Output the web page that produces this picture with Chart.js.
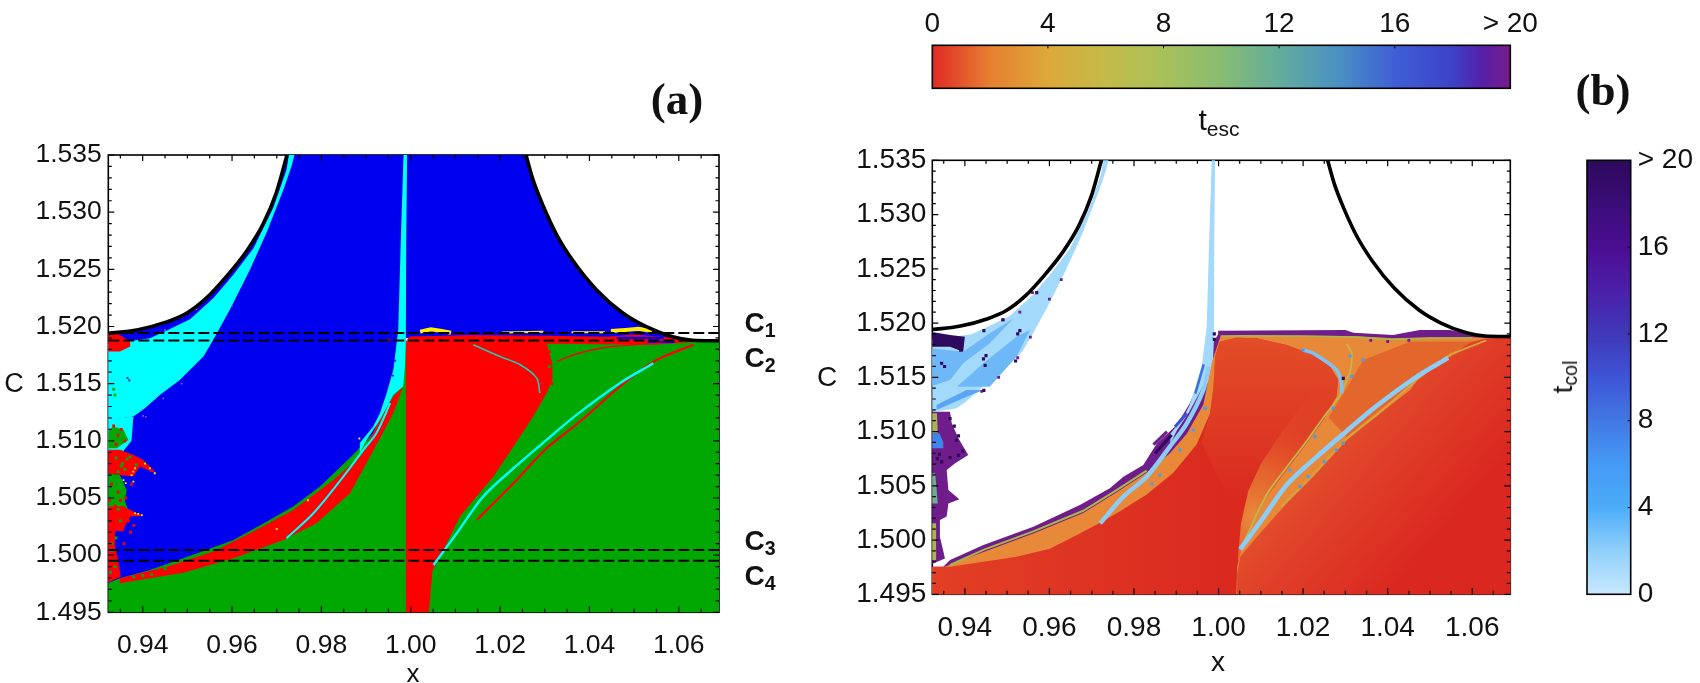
<!DOCTYPE html>
<html>
  <head>
    <title>Escape basins</title>
    <style>
      body { margin: 0; background: #fff; overflow: hidden; width: 1700px; height: 683px; position: relative; font-family: "Liberation Sans", sans-serif; color: #111; }
      canvas { position: absolute; left: 0; top: 0; }
      .lbl { position: absolute; transform: translate(-50%, -50%); line-height: 1; white-space: nowrap; }
      .lbl sub { font-size: 70%; line-height: 0; vertical-align: -0.28em; }
      .big { font-family: "Liberation Serif", serif; font-weight: bold; font-size: 45px; }
      .cc { font-weight: bold; font-size: 28px; }
    </style>
    <script src="https://cdnjs.cloudflare.com/ajax/libs/Chart.js/4.4.1/chart.umd.min.js"></script>
  </head>
  <body>
    <canvas id="panelA" width="1700" height="683"></canvas>
    <canvas id="panelB" width="1700" height="683"></canvas>
    <canvas id="barEsc" width="1700" height="683"></canvas>
    <canvas id="barCol" width="1700" height="683"></canvas>

    <div class="lbl big" style="left:677px;top:99px">(a)</div>
    <div class="lbl big" style="left:1603px;top:90px">(b)</div>
    <div class="lbl cc" style="left:760px;top:323px">C<sub>1</sub></div>
    <div class="lbl cc" style="left:760px;top:358px">C<sub>2</sub></div>
    <div class="lbl cc" style="left:760px;top:541px">C<sub>3</sub></div>
    <div class="lbl cc" style="left:760px;top:576px">C<sub>4</sub></div>
    <div class="lbl" style="left:14px;top:383px;font-size:27px">C</div>
    <div class="lbl" style="left:413px;top:673px;font-size:26px">x</div>
    <div class="lbl" style="left:827px;top:377px;font-size:28px">C</div>
    <div class="lbl" style="left:1218px;top:662px;font-size:28px">x</div>
    <div class="lbl" style="left:1219px;top:120px;font-size:30px">t<sub>esc</sub></div>
    <div class="lbl" style="left:1563px;top:377px;font-size:28px;transform:translate(-50%,-50%) rotate(-90deg)">t<sub>col</sub></div>

    <script>
      // ticks
      const xMajor = [0.94, 0.96, 0.98, 1.00, 1.02, 1.04, 1.06]
      const yMajor = [1.495, 1.500, 1.505, 1.510, 1.515, 1.520, 1.525, 1.530, 1.535]
      const barTicks = [0, 4, 8, 12, 16, 20]
      const dashedLevels = [1.51942, 1.51877, 1.50045, 1.49952]

      // energy boundary
      const energyLeft = [[.9323,1.5194],[.9387,1.5197],[.9454,1.5204],[.9498,1.52115],[.9543,1.5225],[.9588,1.5244],[.9632,1.52656],[.9670,1.5290],[.9699,1.5317],[.9723,1.5350]]
      const energyRight = [[1.0258,1.5350],[1.0274,1.5328],[1.0297,1.5305],[1.0327,1.5280],[1.0364,1.5257],[1.0416,1.5232],[1.0474,1.5212],[1.0526,1.5200],[1.0586,1.5191],[1.0630,1.5188],[1.0695,1.51875]]

      // panel a regions
      const aGreen = [[.9318,1.4948],[1.0695,1.4948],[1.0695,1.51875],[.9318,1.51875]]
      const aBlue = [[.9318,1.4975],[.9349,1.49797],[.9416,1.4987],[.9543,1.50045],[.9603,1.50133],[.9677,1.50293],[.9737,1.50425],[.9797,1.5060],[.9871,1.50877],[.9916,1.51066],[.9954,1.51446],[.9976,1.5162],[.9987,1.51854],[.9990,1.5190],[1.0588,1.5190],[1.0630,1.5188],[1.0586,1.5191],[1.0526,1.5200],[1.0474,1.5212],[1.0416,1.5232],[1.0364,1.5257],[1.0327,1.5280],[1.0297,1.5305],[1.0274,1.5328],[1.0258,1.5352],[.9723,1.5352],[.9699,1.5317],[.9670,1.5290],[.9632,1.52656],[.9588,1.5244],[.9543,1.5225],[.9498,1.52115],[.9454,1.5204],[.9387,1.5197],[.9323,1.5194],[.9318,1.5194]]
      const cyanWedge = [[.9318,1.51848],[.9327,1.51848],[.9416,1.51897],[.9454,1.51965],[.9506,1.52064],[.9558,1.52248],[.9603,1.52452],[.9648,1.52685],[.9692,1.53036],[.9722,1.53371],[.9728,1.5352],[.9741,1.5352],[.9733,1.5340],[.9715,1.53196],[.9677,1.52817],[.9640,1.52496],[.9595,1.52146],[.9558,1.51883],[.9536,1.51737],[.9483,1.51533],[.9439,1.51402],[.9401,1.51271],[.9379,1.51212],[.9327,1.51183],[.9318,1.51183]]
      const aCyanLow = [[.9318,1.51183],[.9379,1.51212],[.9375,1.5100],[.9356,1.50906],[.9318,1.50906]]
      const aGreenPatch1 = [[.9318,1.51066],[.9334,1.51125],[.9357,1.51096],[.9368,1.51008],[.9342,1.50935],[.9318,1.50935]]
      const aRedPatch1 = [[.9318,1.51942],[.9342,1.51942],[.9372,1.51869],[.9372,1.51825],[.9349,1.51781],[.9318,1.51781]]
      const aRedPatch2 = [[.9318,1.50921],[.9349,1.50921],[.9379,1.50877],[.9401,1.50833],[.9431,1.50711],[.9394,1.50775],[.9379,1.50687],[.9349,1.50702],[.9318,1.50716]]
      const aGreenPatch2 = [[.9318,1.50716],[.9349,1.50702],[.9364,1.5057],[.9360,1.50468],[.9368,1.50395],[.9318,1.50395]]
      const aRedPatch3 = [[.9318,1.50425],[.9357,1.50425],[.9379,1.50381],[.9401,1.50343],[.9372,1.50337],[.9360,1.5025],[.9357,1.50206],[.9318,1.5022]]
      const aRedPatch4 = [[.9318,1.5022],[.9338,1.5022],[.9338,1.50074],[.9345,1.49958],[.9351,1.49812],[.9318,1.49754]]
      const aCrescent = [[.9349,1.49754],[.9416,1.49797],[.9491,1.49847],[.9603,1.49972],[.9715,1.50133],[.9789,1.50279],[.9864,1.50541],[.9923,1.50964],[.9961,1.51241],[.9983,1.51475],[.9961,1.51387],[.9923,1.51125],[.9900,1.5095],[.9890,1.50876],[.9827,1.50658],[.9737,1.50395],[.9640,1.50191],[.9558,1.50031],[.9454,1.49899],[.9349,1.49797]]
      const cyanStrip = [[.9886,1.5098],[.9916,1.51125],[.9931,1.51241],[.9946,1.51417],[.9961,1.51621],[.9972,1.51971],[.9978,1.5279],[.9984,1.5352],[.9992,1.5352],[.9990,1.5279],[.9989,1.5185],[.9987,1.5165],[.9983,1.51475],[.9961,1.51402],[.9931,1.51183],[.9901,1.51008],[.9886,1.50891]]
      const aRedCentre = [[.9989,1.4948],[1.0040,1.4948],[1.0045,1.4970],[1.0049,1.4987],[1.0073,1.50045],[1.0110,1.50337],[1.0185,1.50687],[1.0230,1.5095],[1.0274,1.51212],[1.0304,1.51417],[1.0317,1.51533],[1.0317,1.51679],[1.0308,1.51796],[1.0301,1.51913],[.9998,1.51913],[.9989,1.51854]]
      const aRedTop = [[.9990,1.5188],[.9998,1.5191],[1.0130,1.51925],[1.0304,1.5192],[1.0439,1.5191],[1.0500,1.5193],[1.0618,1.5189],[1.0690,1.51877],[1.0618,1.5186],[1.0543,1.5184],[1.0304,1.5185]]
      const thinCyanLine = [[.9722,1.50147],[.9782,1.50366],[.9849,1.50687],[.9894,1.50921],[.9923,1.51066],[.9954,1.51329]]
      const longCyanLine = [[1.0051,1.49914],[1.0103,1.50191],[1.0162,1.50512],[1.0230,1.5076],[1.0304,1.51008],[1.0371,1.51227],[1.0468,1.51504],[1.0543,1.51679]]
      const longRedLine = [[1.0148,1.50308],[1.0237,1.50658],[1.0304,1.50935],[1.0379,1.51169],[1.0468,1.51475],[1.0521,1.51635],[1.0558,1.51723],[1.0633,1.5184]]
      const arcRedLine = [[1.0327,1.51694],[1.0364,1.51752],[1.0424,1.5181],[1.0498,1.5184],[1.0558,1.51854]]
      const arcCyanLine = [[1.0140,1.5184],[1.0200,1.51737],[1.0245,1.51665],[1.0282,1.51548],[1.0289,1.51417]]
      const blueCut1 = [[1.0461,1.5190],[1.0566,1.5190]]
      const blueCut2 = [[1.0530,1.51865],[1.0590,1.51865]]
      const yellowBits1 = [[1.0021,1.51955],[1.0045,1.51975],[1.0070,1.5196],[1.0090,1.51945]]
      const yellowBits2 = [[1.0204,1.51948],[1.0297,1.51955]]
      const yellowBits3 = [[1.0360,1.5195],[1.0435,1.5195]]
      const yellowBits4 = [[1.0448,1.5196],[1.0480,1.5197],[1.0510,1.5198],[1.0540,1.5196]]
      const speckYellow = [[.9383,1.50365],[.9390,1.5036],[.9398,1.5035],[.9405,1.5080],[.9416,1.5076],[.9427,1.50716],[.9379,1.5073],[.9383,1.5076],[.9375,1.5070],[.9357,1.50656],[.9362,1.5063],[.9379,1.50643],[.9700,1.5023],[.9770,1.5048],[.9885,1.5102]]
      const speckRed = [[.9375,1.5062],[.9362,1.5050],[.9368,1.5030],[.9380,1.5026],[.9373,1.5020],[.9358,1.5010],[.9950,1.5188],[1.0310,1.5178],[1.0316,1.5150],[.9330,1.5062],[.9345,1.5055],[.9350,1.5048],[.9338,1.5043],[.9355,1.5041],[.9325,1.5048],[.9330,1.5035],[.9345,1.5030],[.9335,1.5113],[.9345,1.5105],[.9352,1.5110],[.9360,1.5100],[.9340,1.5097],[.9390,1.5082],[.9410,1.5078],[.9420,1.5074]]
      const speckGreen = [[.9335,1.5145],[.9338,1.5140],[.9352,1.5078],[.9372,1.5086],[.9350,1.5030],[.9345,1.5040],[.9330,1.5010],[.9338,1.4990],[1.0326,1.5167],[1.0340,1.5160],[1.0310,1.5165],[.9340,1.5085],[.9355,1.5080],[.9365,1.5084],[.9385,1.5079],[.9345,1.5073],[.9360,1.5075],[.9340,1.5015],[.9330,1.5004],[.9335,1.4995],[.9328,1.4985],[.9420,1.4983],[.9380,1.4981],[.9450,1.4988],[.9400,1.4982]]
      const speckMagenta = [[.9379,1.51197],[.9401,1.51218],[.9398,1.5127],[.9407,1.5121],[.9446,1.5137],[.9487,1.5150],[.9640,1.5250],[.9600,1.5218],[.9450,1.5197],[.9520,1.5215]]
      const speckBlue = [[.9366,1.5155],[.9370,1.5153],[.9960,1.5157],[.9965,1.5170]]

      // panel b regions
      const bPurpleLeft = [[.9318,1.51183],[.9365,1.51183],[.9369,1.51076],[.9385,1.50937],[.9408,1.50784],[.9377,1.50707],[.9357,1.50646],[.9361,1.50461],[.9387,1.50375],[.9361,1.50338],[.9357,1.50216],[.9341,1.50185],[.9341,1.50031],[.9353,1.49831],[.9325,1.49785],[.9318,1.49785]]
      const bDarkTop = [[.9318,1.5192],[.9365,1.5189],[.9400,1.51874],[.9396,1.51736],[.9365,1.51782],[.9318,1.51782]]
      const bMid1 = [[.9318,1.51767],[.9396,1.51736],[.9459,1.51905],[.9515,1.52043],[.9459,1.51813],[.9396,1.51629],[.9365,1.51475],[.9318,1.51414]]
      const bMid2 = [[.9381,1.51414],[.9444,1.51629],[.9522,1.51874],[.9554,1.51936],[.9522,1.5169],[.9459,1.51414]]
      const bMid3 = [[.9333,1.51199],[.9396,1.51306],[.9444,1.51383],[.9404,1.51383],[.9333,1.51245]]
      const bOlive1 = [[.9318,1.51168],[.9334,1.51168],[.9336,1.50984],[.9318,1.50984]]
      const bBlueBit = [[.9318,1.50984],[.9340,1.50984],[.9349,1.5090],[.9349,1.50845],[.9318,1.50845]]
      const bOlive2 = [[.9318,1.50615],[.9330,1.50615],[.9336,1.50338],[.9318,1.50338]]
      const bOlive3 = [[.9318,1.50154],[.9332,1.50154],[.9332,1.49816],[.9318,1.49816]]
      const bOuter = [[.9318,1.49755],[.9349,1.49755],[.9365,1.49816],[.9444,1.49954],[.9562,1.50123],[.9672,1.50323],[.9743,1.50477],[.9775,1.50584],[.9822,1.50692],[.9854,1.50891],[.9901,1.5106],[.9932,1.5126],[.9956,1.51475],[.9972,1.51721],[.9985,1.5180],[.9999,1.5190],[.9999,1.5193],[1.0300,1.51936],[1.0319,1.5191],[1.0413,1.5189],[1.0425,1.5190],[1.0476,1.51936],[1.0547,1.51936],[1.0587,1.51905],[1.0650,1.51874],[1.0695,1.51874],[1.0695,1.4948],[.9318,1.4948]]
      const bOrange = [[.9318,1.4975],[.9349,1.4975],[.9444,1.4989],[.9562,1.5006],[.9680,1.5025],[.9759,1.5044],[.9830,1.5062],[.9885,1.5080],[.9925,1.5098],[.9964,1.5125],[.9985,1.5165],[1.0005,1.5188],[1.0060,1.51885],[1.0319,1.5188],[1.0413,1.5186],[1.0500,1.5187],[1.0600,1.5187],[1.0650,1.51865],[1.0695,1.5187],[1.0695,1.4948],[.9318,1.4948]]
      const bOliveEdge = [[.9365,1.4977],[.9444,1.4991],[.9562,1.5008],[.9680,1.5027],[.9759,1.5046],[.9830,1.5064]]
      const bOliveTop = [[1.0005,1.5188],[1.0060,1.51882],[1.0200,1.5188],[1.0319,1.5187],[1.0413,1.5185],[1.0500,1.5186],[1.0600,1.51865]]
      const bLobe = [[.9318,1.4948],[.9318,1.49755],[.9365,1.49755],[.9522,1.49847],[.9601,1.4992],[.9672,1.5006],[.9720,1.5016],[.9767,1.50265],[.9830,1.5042],[.9893,1.5062],[.9948,1.5088],[.9980,1.51168],[.9988,1.51414],[.9992,1.5169],[1.0003,1.51828],[1.0043,1.51865],[1.0090,1.5186],[1.0161,1.51798],[1.0224,1.51706],[1.0264,1.51598],[1.0283,1.51475],[1.0279,1.51322],[1.0248,1.51106],[1.0208,1.50891],[1.0161,1.50646],[1.0114,1.5040],[1.0074,1.50123],[1.0055,1.49939],[1.0044,1.49755],[1.0042,1.4948]]
      const bLobeTop = [[.9960,1.5090],[.9980,1.51168],[.9988,1.51414],[.9992,1.5169],[1.0003,1.51828],[1.0043,1.51865],[1.0090,1.5186],[1.0161,1.51798],[1.0224,1.51706],[1.0264,1.51598],[1.0283,1.51475],[1.0279,1.51322],[1.0248,1.51106],[1.0208,1.50891],[1.0161,1.50646],[1.0114,1.5040],[1.0100,1.5030],[1.0020,1.5040]]
      const bPlume = [[1.0044,1.4950],[1.0046,1.4985],[1.0053,1.5015],[1.0070,1.5045],[1.0100,1.5070],[1.0150,1.5100],[1.0220,1.5135],[1.0283,1.51475],[1.0279,1.51322],[1.0248,1.51106],[1.0208,1.50891],[1.0161,1.50646],[1.0114,1.5040],[1.0074,1.50123],[1.0055,1.49939],[1.0044,1.49755]]
      const bRightLobe = [[1.0044,1.4948],[1.0044,1.4968],[1.0051,1.49847],[1.0098,1.50062],[1.0161,1.50338],[1.0224,1.50584],[1.0303,1.50922],[1.0382,1.51168],[1.0453,1.51383],[1.0476,1.51505],[1.0547,1.5169],[1.0594,1.51815],[1.0634,1.5186],[1.0695,1.5187],[1.0695,1.4948]]
      const bUpperRight = [[1.0319,1.51506],[1.0342,1.5166],[1.0453,1.51828],[1.0594,1.5183],[1.0640,1.5186],[1.0547,1.5172],[1.0476,1.5153],[1.0453,1.5142],[1.0382,1.5120],[1.0303,1.5095],[1.0260,1.5113]]
      const bRidge = [[1.0055,1.49939],[1.0114,1.5042],[1.0161,1.5067],[1.0208,1.5091],[1.0248,1.5113],[1.0290,1.5135],[1.0305,1.5150],[1.0311,1.5154],[1.0315,1.5172],[1.0303,1.5181]]
      const bArcLine = [[1.0200,1.51752],[1.0224,1.51721],[1.0279,1.51567],[1.0291,1.51444],[1.0291,1.5135]]
      const bStripLow = [[.9720,1.50154],[.9775,1.5040],[.9830,1.50584],[.9885,1.50861],[.9925,1.51076],[.9964,1.51383],[.9976,1.51598]]
      const bDark1 = [[.9850,1.50799],[.9889,1.50968]]
      const bDark2 = [[.9846,1.5088],[.9878,1.5100]]
      const bDark3 = [[.9897,1.51045],[.9925,1.51168]]
      const bDark4 = [[.9945,1.5135],[.9965,1.5162]]
      const speckBlueB = [[.9940,1.51014],[.9861,1.5060],[.9909,1.5083],[.9842,1.50517],[.9968,1.51214],[1.0169,1.50646],[1.0228,1.50953],[1.0271,1.51214],[1.0212,1.50584],[1.0250,1.50722],[1.0279,1.5083],[1.0295,1.50891],[1.0193,1.50492],[1.0311,1.51696],[1.0342,1.5166],[1.0315,1.51506],[1.0200,1.51752]]
      const speckDark = [[.9444,1.5167],[.9450,1.5170],[.9448,1.5161],[.9525,1.5190],[.9530,1.5193],[.9345,1.5163],[.9352,1.5160],[.9360,1.5181],[.9385,1.5182],[.9390,1.5175],[.9385,1.5096],[.9375,1.5105],[.9365,1.5112],[.9380,1.5092],[.9395,1.5082],[.9385,1.5078],[.9365,1.5076],[.9340,1.5079],[.9345,1.5072],[.9335,1.5075],[.9570,1.5228],[.9490,1.5203],[.9445,1.5193],[.9520,1.5165],[.9445,1.5138],[.9990,1.5185],[1.0295,1.5149],[.9990,1.5190]]
      const speckPurple = [[.9530,1.5210],[.9560,1.5228],[.9490,1.5203],[.9628,1.5240],[.9600,1.5222],[.9555,1.5187],[.9525,1.5168],[.9480,1.5150],[.9440,1.5137],[1.0360,1.5184],[1.0400,1.5183],[1.0450,1.5184]]

      // colour bars, one colour per value
      const barValues = [0, 2, 4, 6, 8, 10, 12, 14, 16, 18, 19, 20]
      const escColours = ['#e02a26', '#e67f30', '#dda83a', '#c3bb49', '#a9c05a', '#88bc72', '#63ac9c', '#4b92c2', '#3f5fd6', '#3d42c8', '#5520a8', '#771c8a']
      const colColours = ['#c8e8fe', '#8fd0fb', '#4cacf8', '#449af5', '#4278e2', '#3d55d6', '#4038b8', '#4a20a8', '#4b0e92', '#3a0d78', '#330b6a', '#2e0a5e']

      const FONT = '"Liberation Sans", sans-serif'
      const GREEN = '#02a802', BLUE = '#0000f0', CYAN = '#00ffff', RED = '#ff0000', YELLOW = '#ffee00'
      const LIGHT = '#a3d9fb', MID = '#6fb8f7', SKY = '#8ccdf8', PURPLE = '#6f1d8b', DARK = '#2e0a5e', ORANGE = '#e8893a', OLIVE = '#a9b64a'

      function poly(data, colour) {
        return { data: data, fill: 'shape', backgroundColor: colour, borderWidth: 0, pointRadius: 0, tension: 0, clip: 2 }
      }
      function curve(data, colour, width, extra) {
        return Object.assign({ data: data, fill: false, borderColor: colour, borderWidth: width, pointRadius: 0, tension: 0.3 }, extra || {})
      }
      function specks(data, colour, size) {
        return { data: data, showLine: false, pointStyle: 'rect', pointRadius: size, pointBorderWidth: 0, pointBackgroundColor: colour }
      }
      // gradient running between two data points
      function grad(x1, c1, x2, c2, stops) {
        return function (ctx) {
          const ch = ctx.chart
          if (!ch.chartArea) return stops[0]
          const g = ch.ctx.createLinearGradient(ch.scales.x.getPixelForValue(x1), ch.scales.y.getPixelForValue(c1), ch.scales.x.getPixelForValue(x2), ch.scales.y.getPixelForValue(c2))
          stops.forEach((s, i) => g.addColorStop(i / (stops.length - 1), s))
          return g
        }
      }
      function glow(x, c, radius, stops) {
        return function (ctx) {
          const ch = ctx.chart
          if (!ch.chartArea) return stops[0]
          const px = ch.scales.x.getPixelForValue(x), py = ch.scales.y.getPixelForValue(c)
          const g = ch.ctx.createRadialGradient(px, py, 0, px, py, radius)
          stops.forEach((s, i) => g.addColorStop(i / (stops.length - 1), s))
          return g
        }
      }

      // black frame under the marks, ticks over them
      const frameTicks = {
        id: 'frameTicks',
        beforeDatasetsDraw(chart) {
          const a = chart.chartArea, c = chart.ctx
          c.save(); c.strokeStyle = '#000'; c.lineWidth = 1.6
          c.strokeRect(a.left, a.top, a.right - a.left, a.bottom - a.top)
          c.restore()
        },
        afterDatasetsDraw(chart) {
          const a = chart.chartArea, c = chart.ctx, sx = chart.scales.x, sy = chart.scales.y
          c.save(); c.strokeStyle = '#000'; c.lineWidth = 1.2
          c.beginPath()
          for (let v = 0.935; v < 1.0685; v += 0.005) {
            const major = xMajor.some(m => Math.abs(m - v) < 1e-6), l = major ? 6 : 3.5, px = sx.getPixelForValue(v)
            c.moveTo(px, a.bottom); c.lineTo(px, a.bottom - l)
            c.moveTo(px, a.top); c.lineTo(px, a.top + l)
          }
          for (let v = 1.495; v < 1.5352; v += 0.001) {
            const major = yMajor.some(m => Math.abs(m - v) < 1e-6), l = major ? 6 : 3.5, py = sy.getPixelForValue(v)
            c.moveTo(a.left, py); c.lineTo(a.left + l, py)
            c.moveTo(a.right, py); c.lineTo(a.right - l, py)
          }
          c.stroke(); c.restore()
        }
      }

      function panelChart(id, box, fontSize, yPad, xPad, datasets) {
        new Chart(id, {
          type: 'line',
          data: { datasets: datasets.slice().reverse() },
          plugins: [frameTicks],
          options: {
            responsive: false, animation: false, events: [],
            layout: { padding: { left: box.left - 100, top: box.top, right: 1700 - box.right, bottom: 683 - box.bottom - 50 } },
            plugins: { legend: { display: false }, tooltip: { enabled: false } },
            scales: {
              x: {
                type: 'linear', min: 0.9323, max: 1.069,
                afterFit: s => { s.height = 50 },
                afterBuildTicks: s => { s.ticks = xMajor.map(v => ({ value: v })) },
                grid: { display: false, drawTicks: false }, border: { display: false },
                ticks: { color: '#111', padding: xPad, maxRotation: 0, autoSkip: false, font: { family: FONT, size: fontSize }, callback: v => v.toFixed(2) }
              },
              y: {
                type: 'linear', min: 1.495, max: 1.535,
                afterFit: s => { s.width = 100 },
                afterBuildTicks: s => { s.ticks = yMajor.map(v => ({ value: v })) },
                grid: { display: false, drawTicks: false }, border: { display: false },
                ticks: { color: '#111', padding: yPad, autoSkip: false, font: { family: FONT, size: fontSize }, callback: v => v.toFixed(3) }
              }
            }
          }
        })
      }

      const energyOpts = { cubicInterpolationMode: 'monotone' }

      panelChart('panelA', { left: 108.3, top: 155, right: 719, bottom: 612.3 }, 26.5, 6.5, 17, [
        poly(aGreen, GREEN),
        poly(aBlue, BLUE),
        poly(aRedCentre, RED),
        poly(aRedTop, RED),
        curve(blueCut1, BLUE, 2.5, { tension: 0 }),
        curve(blueCut2, BLUE, 2, { tension: 0 }),
        poly(cyanWedge, CYAN),
        poly(aCyanLow, CYAN),
        poly(aGreenPatch1, GREEN),
        poly(aRedPatch1, RED),
        poly(aRedPatch2, RED),
        poly(aGreenPatch2, GREEN),
        poly(aRedPatch3, RED),
        poly(aRedPatch4, RED),
        poly(aCrescent, RED),
        poly(cyanStrip, CYAN),
        curve(thinCyanLine, CYAN, 2),
        curve(longRedLine, RED, 2.2),
        curve(longCyanLine, CYAN, 2.4),
        curve(arcRedLine, RED, 1.4),
        curve(arcCyanLine, '#22c8b0', 1.6),
        curve(yellowBits1, YELLOW, 4, { tension: 0 }),
        curve(yellowBits2, YELLOW, 2, { tension: 0 }),
        curve(yellowBits3, YELLOW, 2, { tension: 0 }),
        curve(yellowBits4, YELLOW, 4, { tension: 0 }),
        specks(speckRed, RED, 2),
        specks(speckGreen, GREEN, 2),
        specks(speckYellow, YELLOW, 1.3),
        specks(speckMagenta, '#e040e0', 1.1),
        specks(speckBlue, BLUE, 1.3),
        curve(energyLeft, '#000', 3.6, energyOpts),
        curve(energyRight, '#000', 3.6, energyOpts),
        ...dashedLevels.map(v => curve([[0.9323, v], [1.069, v]], '#000', 2, { tension: 0, borderDash: [11, 4] }))
      ])

      panelChart('panelB', { left: 932.3, top: 160.3, right: 1510.3, bottom: 594.3 }, 28, 6, 17, [
        poly(cyanWedge, LIGHT),
        poly(bMid1, MID),
        poly(bMid2, MID),
        poly(bMid3, '#5aa6f3'),
        poly(bPurpleLeft, PURPLE),
        poly(bDarkTop, DARK),
        poly(bOlive1, OLIVE),
        poly(bBlueBit, '#3f86ea'),
        poly(bOlive2, '#6bb08a'),
        poly(bOlive3, OLIVE),
        poly(bOuter, PURPLE),
        poly(cyanStrip, LIGHT),
        poly(bOrange, ORANGE),
        curve(bOliveEdge, OLIVE, 2, { tension: 0 }),
        curve(bOliveTop, OLIVE, 1.6, { tension: 0 }),
        poly(bUpperRight, '#e3672c'),
        poly(bLobe, grad(.9323, 1.497, 1.0, 1.497, ['#e23f25', '#da2a20'])),
        poly(bLobeTop, grad(1.0, 1.519, 1.0, 1.504, ['rgba(227,78,40,1)', 'rgba(227,78,40,0)'])),
        poly(bPlume, glow(1.0082, 1.5022, 140, ['rgba(232,137,58,1)', 'rgba(232,120,50,0.7)', 'rgba(228,95,44,0.25)', 'rgba(228,95,44,0)'])),
        poly(bRightLobe, grad(1.008, 1.513, 1.05, 1.499, ['#e76f30', '#e0442a', '#da2720'])),
        curve(bRidge, '#c2b74a', 1.8),
        curve(longRedLine, '#d4a53c', 1.8),
        curve(longCyanLine, SKY, 4.6),
        curve(bStripLow, SKY, 4.4),
        curve(bArcLine, '#7cc2f7', 3.6),
        curve(bDark1, DARK, 3, { tension: 0 }),
        curve(bDark2, PURPLE, 3, { tension: 0 }),
        curve(bDark3, '#3d4fd0', 3, { tension: 0 }),
        curve(bDark4, '#3d6fdc', 2.5, { tension: 0 }),
        specks(speckBlueB, '#4a9cf0', 2.2),
        specks(speckPurple, PURPLE, 2),
        specks(speckDark, DARK, 2.2),
        curve(energyLeft, '#000', 3.6, energyOpts),
        curve(energyRight, '#000', 3.6, energyOpts)
      ])

      // colour bars are one floating bar, filled from the stop lists
      function barFill(colours, horizontal) {
        return function (ctx) {
          const ch = ctx.chart
          if (!ch.chartArea) return colours[0]
          const a = ch.chartArea, c = ch.ctx
          const g = horizontal ? c.createLinearGradient(a.left, 0, a.right, 0) : c.createLinearGradient(0, a.bottom, 0, a.top)
          barValues.forEach((v, i) => g.addColorStop(v / 20, colours[i]))
          return g
        }
      }
      const barTickMarks = {
        id: 'barTickMarks',
        afterDatasetsDraw(chart) {
          const a = chart.chartArea, c = chart.ctx, horizontal = chart.options.indexAxis === 'y'
          c.save(); c.strokeStyle = '#000'; c.lineWidth = 1.6
          c.strokeRect(a.left, a.top, a.right - a.left, a.bottom - a.top)
          c.lineWidth = 1; c.beginPath()
          barTicks.slice(1, -1).forEach(v => {
            if (horizontal) { const p = chart.scales.x.getPixelForValue(v); c.moveTo(p, a.top); c.lineTo(p, a.top + 3) }
            else { const p = chart.scales.y.getPixelForValue(v); c.moveTo(a.right, p); c.lineTo(a.right - 3, p) }
          })
          c.stroke(); c.restore()
        }
      }
      const barLabel = v => v === 20 ? '> 20' : String(v)
      const tickOpts = pad => ({ color: '#111', padding: pad, autoSkip: false, maxRotation: 0, font: { family: FONT, size: 28 }, callback: barLabel })

      new Chart('barEsc', {
        type: 'bar',
        data: { labels: ['t'], datasets: [{ data: [[0, 20]], backgroundColor: barFill(escColours, true), barPercentage: 1, categoryPercentage: 1, borderSkipped: false }] },
        plugins: [barTickMarks],
        options: {
          indexAxis: 'y', responsive: false, animation: false, events: [],
          layout: { padding: { left: 932.3, top: 1.3, right: 1700 - 1510.3, bottom: 683 - 88.3 } },
          plugins: { legend: { display: false }, tooltip: { enabled: false } },
          scales: {
            x: {
              type: 'linear', position: 'top', min: 0, max: 20,
              afterFit: s => { s.height = 44 },
              afterBuildTicks: s => { s.ticks = barTicks.map(v => ({ value: v })) },
              grid: { display: false, drawTicks: false }, border: { display: false }, ticks: tickOpts(4)
            },
            y: { display: false }
          }
        }
      })

      new Chart('barCol', {
        type: 'bar',
        data: { labels: ['t'], datasets: [{ data: [[0, 20]], backgroundColor: barFill(colColours, false), barPercentage: 1, categoryPercentage: 1, borderSkipped: false }] },
        plugins: [barTickMarks],
        options: {
          responsive: false, animation: false, events: [],
          layout: { padding: { left: 1587, top: 160.3, right: 1, bottom: 683 - 594.3 } },
          plugins: { legend: { display: false }, tooltip: { enabled: false } },
          scales: {
            y: {
              type: 'linear', position: 'right', min: 0, max: 20,
              afterFit: s => { s.width = 68.3 },
              afterBuildTicks: s => { s.ticks = barTicks.map(v => ({ value: v })) },
              grid: { display: false, drawTicks: false }, border: { display: false }, ticks: tickOpts(7)
            },
            x: { display: false }
          }
        }
      })
    </script>
  </body>
</html>
